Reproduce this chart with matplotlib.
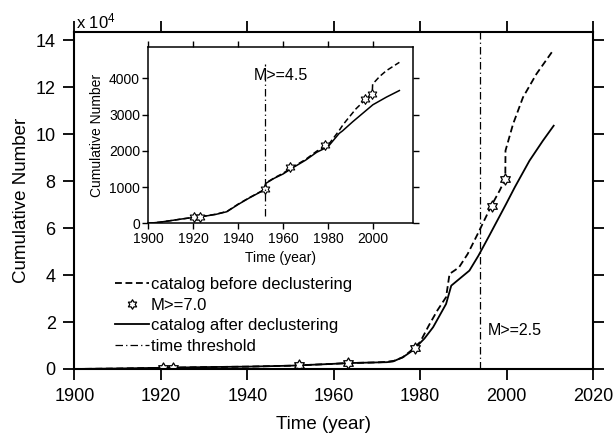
import matplotlib
matplotlib.use("Agg")
import matplotlib.pyplot as plt
from matplotlib.path import Path
import numpy as np

plt.rcParams['font.family'] = ['Liberation Sans', 'DejaVu Sans']
plt.rcParams['mathtext.fontset'] = 'custom'
plt.rcParams['mathtext.rm'] = 'Liberation Sans'
plt.rcParams['mathtext.it'] = 'Liberation Sans'

# ---------------- main panel data (x 10^4), M>=2.5 ----------------
main_before_years = [1900, 1910, 1920, 1930, 1940, 1950, 1960, 1963, 1970, 1972, 1974, 1976,
                     1978, 1980, 1982, 1984, 1986, 1986.8, 1988, 1989, 1991, 1993.5, 1996.5,
                     1998.4, 1999.7, 1999.75, 2001.5, 2003.8, 2006.9, 2010.7]
main_before_vals = [0, 0.02, 0.05, 0.08, 0.10, 0.14, 0.22, 0.25, 0.28, 0.30, 0.35, 0.50,
                    0.80, 1.15, 1.85, 2.50, 3.06, 4.05, 4.20, 4.33, 4.90, 5.82, 6.96,
                    7.60, 8.09, 9.30, 10.43, 11.57, 12.56, 13.55]

main_after_years = [1900, 1910, 1920, 1930, 1940, 1950, 1960, 1963, 1970, 1972.3, 1973.7, 1976,
                    1978.3, 1981, 1983, 1986, 1987.2, 1989.1, 1991.4, 1993.5, 1996, 1999.9,
                    2001.9, 2005.3, 2008.4, 2010.9]
main_after_vals = [0, 0.02, 0.05, 0.08, 0.10, 0.14, 0.22, 0.25, 0.28, 0.29, 0.32, 0.50,
                   0.79, 1.30, 1.78, 2.77, 3.55, 3.84, 4.19, 4.83, 5.68, 7.03,
                   7.74, 8.87, 9.72, 10.36]

quake_years = [1920.5, 1922.8, 1951.9, 1963.3, 1978.8, 1996.6, 1999.7]
main_quake_vals = [0.05, 0.05, 0.15, 0.25, 0.88, 6.95, 8.09]
main_threshold = 1993.8

# ---------------- inset data (counts), M>=4.5 ----------------
inset_before_years = [1900, 1905, 1910, 1915, 1920, 1925, 1930, 1935, 1940, 1945, 1951.9, 1952.3,
                      1956, 1960, 1964, 1970, 1975, 1980, 1985, 1986.5, 1988, 1992.5, 1997,
                      1999.7, 1999.9, 2003, 2006, 2011.8]
inset_before_vals = [0, 30, 74, 120, 163, 200, 250, 327, 529, 708, 937, 1110,
                     1250, 1380, 1540, 1760, 1990, 2150, 2560, 2700, 2820, 3160, 3430,
                     3570, 3840, 4050, 4210, 4440]

inset_after_years = [1900, 1905, 1910, 1915, 1920, 1925, 1930, 1935, 1940, 1945, 1951.9, 1952.3,
                     1956, 1960, 1964, 1970, 1975, 1980, 1985, 1986.5, 1991, 2000, 2006, 2011.8]
inset_after_vals = [0, 30, 74, 120, 160, 195, 245, 320, 520, 700, 930, 1100,
                    1240, 1360, 1520, 1740, 1960, 2110, 2480, 2550, 2800, 3270, 3480, 3662]

inset_quake_vals = [165, 175, 950, 1540, 2150, 3433, 3570]
inset_threshold = 1952.0

main_xticks = [1900, 1920, 1940, 1960, 1980, 2000, 2020]
main_yticks = [0, 2, 4, 6, 8, 10, 12, 14]
inset_xticks = [1900, 1920, 1940, 1960, 1980, 2000]
inset_yticks = [0, 1000, 2000, 3000, 4000]

dash = (0, (3.8, 2.0))
dashdot = (0, (6, 2.5, 1, 2.5))

# hexagram (star of David outline) marker
_ang = np.pi / 2 + np.arange(12) * np.pi / 6
_rad = np.where(np.arange(12) % 2 == 0, 1.0, 1 / np.sqrt(3))
_verts = np.column_stack([_rad * np.cos(_ang), _rad * np.sin(_ang)])
_verts = np.vstack([_verts, _verts[:1]])
star = Path(_verts, closed=True)

fig = plt.figure(figsize=(6.14, 4.36), dpi=100)
ax = fig.add_axes([0.1213, 0.1537, 0.9658 - 0.1213, 0.9266 - 0.1537])

l_before, = ax.plot(main_before_years, main_before_vals, color='black', lw=1.3,
                    linestyle=dash, label='catalog before declustering')
l_after, = ax.plot(main_after_years, main_after_vals, color='black', lw=1.3,
                   label='catalog after declustering')
l_stars, = ax.plot(quake_years, main_quake_vals, linestyle='none', marker=star, ms=8,
                   mfc='white', mec='black', mew=0.9, label='M>=7.0')
l_thr = ax.axvline(main_threshold, color='black', lw=0.9, linestyle=dashdot,
                   label='time threshold')

ax.set_xlim(1900, 2020)
ax.set_ylim(0, 14.35)
ax.set_xticks(main_xticks)
ax.set_yticks(main_yticks)
ax.tick_params(direction='out', length=8, width=1.3, labelsize=13, pad=5.5,
               top=True, right=True)
for s in ax.spines.values():
    s.set_linewidth(1.5)
ax.set_xlabel('Time (year)', fontsize=13.5)
ax.set_ylabel('Cumulative Number', fontsize=13.5)
ax.xaxis.set_label_coords(0.48, -0.165)
ax.xaxis.label.set_va('center')
ax.yaxis.set_label_coords(-0.103, 0.5)
ax.yaxis.label.set_va('center')
ax.text(0.003, 1.031, r'x 10$^4$', transform=ax.transAxes, fontsize=12,
        ha='left', va='center')
ax.text(1995.7, 1.64, 'M>=2.5', fontsize=11.5, ha='left', va='center')

leg = ax.legend(handles=[l_before, l_stars, l_after, l_thr],
                loc='upper left', bbox_to_anchor=(115 / 614, 1 - 277 / 436),
                bbox_transform=fig.transFigure, frameon=False, fontsize=12,
                handlelength=2.05, handletextpad=0.1, labelspacing=0.33,
                borderpad=0, borderaxespad=0, markerscale=0.85)

# ---------------- inset ----------------
ins = fig.add_axes([148.3 / 614, 1 - 223.3 / 436, (413.3 - 148.3) / 614, (223.3 - 47.3) / 436])
ins.plot(inset_before_years, inset_before_vals, color='black', lw=1.1, linestyle=dash)
ins.plot(inset_after_years, inset_after_vals, color='black', lw=1.1)
ins.plot(quake_years, inset_quake_vals, linestyle='none', marker=star, ms=7,
         mfc='white', mec='black', mew=0.8)
ins.vlines(inset_threshold, 200, 4390, color='black', lw=0.9, linestyles=[dashdot])
ins.set_xlim(1900, 2018)
ins.set_ylim(0, 4855)
ins.set_xticks(inset_xticks)
ins.set_yticks(inset_yticks)
ins.tick_params(direction='out', length=4.5, width=1.0, labelsize=10, pad=1.5,
                top=True, right=True)
for s in ins.spines.values():
    s.set_linewidth(1.1)
ins.set_xlabel('Time (year)', fontsize=10)
ins.set_ylabel('Cumulative Number', fontsize=10)
ins.xaxis.set_label_coords(0.5, -0.199)
ins.xaxis.label.set_va('center')
ins.yaxis.set_label_coords(-0.195, 0.5)
ins.yaxis.label.set_va('center')
ins.text(1947.1, 4072, 'M>=4.5', fontsize=11.5, ha='left', va='center')

fig.savefig('out.png', dpi=100)
